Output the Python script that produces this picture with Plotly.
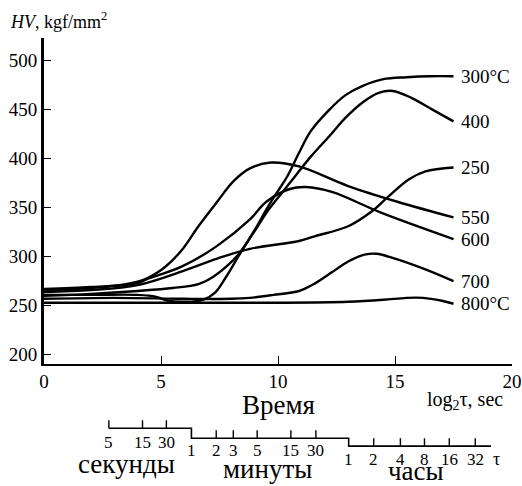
import plotly.graph_objects as go

# Hardness (HV) vs aging time, log2 of time in seconds
x300 = [0, 2, 4, 4.8, 5.3, 6.0, 6.8, 7.3, 7.8, 8.3, 9.0, 9.6, 10.0, 10.4, 10.9, 11.4, 12.2, 12.9, 13.6, 14.5, 15.5, 16.5, 17.5]
hv300 = [261, 261, 261, 259, 255, 254, 256, 263, 280, 300, 327, 352, 367, 382, 406, 428, 450, 465, 474, 481, 483, 484, 484]

x400 = [0, 2, 4, 5.5, 6.6, 7.2, 7.8, 8.3, 9.0, 9.6, 10.2, 10.7, 11.4, 12.2, 12.9, 13.6, 14.3, 14.9, 15.7, 16.6, 17.5]
hv400 = [260, 262, 265, 268, 272, 279, 290, 302, 326, 348, 366, 381, 402, 423, 442, 457, 467, 469, 462, 450, 438]

x250 = [0, 2, 4, 5.9, 7.4, 8.8, 10.9, 11.6, 13.0, 14.0, 14.7, 15.6, 16.3, 17.5]
hv250 = [264, 266, 271, 285, 298, 308, 316, 321, 331, 346, 361, 379, 387, 391]

x550 = [0, 2, 3.5, 4.4, 5.2, 5.9, 6.6, 7.4, 8.1, 8.8, 9.7, 10.9, 13.0, 15.1, 17.5]
hv550 = [267, 269, 272, 278, 290, 307, 331, 356, 377, 390, 396, 392, 372, 356, 340]

x600 = [0, 2, 4, 4.4, 5.9, 7.4, 8.8, 9.5, 10.5, 11.2, 12.3, 14.4, 17.5]
hv600 = [266, 268, 273, 277, 290, 311, 338, 356, 369, 371, 366, 345, 318]

x700 = [0, 3, 6, 8, 8.8, 9.8, 10.9, 11.6, 12.3, 13.0, 13.7, 14.2, 15.0, 16.3, 17.5]
hv700 = [257, 258, 257, 257, 258, 261, 265, 273, 284, 295, 302, 303, 298, 287, 275]

x800 = [0, 5, 10, 13, 14.5, 15.5, 16.2, 17.0, 17.5]
hv800 = [253, 253, 253, 254, 256, 258, 258, 255, 252]

series = [
    ("300°C", x300, hv300),
    ("400", x400, hv400),
    ("250", x250, hv250),
    ("550", x550, hv550),
    ("600", x600, hv600),
    ("700", x700, hv700),
    ("800°C", x800, hv800),
]

# Auxiliary time scale: tick labels and their positions on the log2 axis
sec_labels = ["5", "15", "30"]
sec_pos = [2.77, 4.21, 5.23]
min_labels = ["1", "2", "3", "5", "15", "30"]
min_pos = [6.30, 7.36, 8.09, 9.11, 10.55, 11.62]
hr_labels = ["1", "2", "4", "8", "16", "32"]
hr_pos = [13.02, 14.09, 15.23, 16.26, 17.32, 18.43]
scale_end = 19.1

FONT = "Liberation Serif, Times New Roman, serif"
fig = go.Figure()

for name, xs, ys in series:
    fig.add_trace(go.Scatter(
        x=xs, y=ys, mode="lines", name=name,
        line=dict(color="black", width=2.4, shape="spline", smoothing=1.0),
        showlegend=False, hoverinfo="skip",
    ))
    fig.add_annotation(x=17.75, y=ys[-1], xref="x", yref="y", text=name,
                       showarrow=False, xanchor="left", yanchor="middle",
                       font=dict(family=FONT, size=19, color="black"))

# Stepped time scale on a lower strip (y2 units: offsets in the strip)
row_s, row_m, row_h = -15, -25, -33
tick_len = 8
step_x = [sec_pos[0], min_pos[0], min_pos[0], hr_pos[0], hr_pos[0], scale_end]
step_y = [row_s, row_s, row_m, row_m, row_h, row_h]
fig.add_trace(go.Scatter(x=step_x, y=step_y, xaxis="x", yaxis="y2", mode="lines",
                         line=dict(color="black", width=1.6), showlegend=False,
                         hoverinfo="skip"))
tx, ty = [], []
for p in sec_pos:
    tx += [p, p, None]; ty += [row_s, row_s + tick_len, None]
for p in min_pos[1:]:
    tx += [p, p, None]; ty += [row_m, row_m + tick_len, None]
for p in hr_pos[1:]:
    tx += [p, p, None]; ty += [row_h, row_h + tick_len, None]
fig.add_trace(go.Scatter(x=tx, y=ty, xaxis="x", yaxis="y2", mode="lines",
                         line=dict(color="black", width=1.4), showlegend=False,
                         hoverinfo="skip"))

def add_text(x, y, text, size, anchor="center"):
    fig.add_annotation(x=x, y=y, xref="x", yref="y2", text=text, showarrow=False,
                       xanchor=anchor, yanchor="middle",
                       font=dict(family=FONT, size=size, color="black"))

for lab, p in zip(sec_labels, sec_pos):
    add_text(p, -29, lab, 17)
for lab, p in zip(min_labels, min_pos):
    add_text(p, -37, lab, 17)
for lab, p in zip(hr_labels, hr_pos):
    add_text(p, -46, lab, 17)
add_text(19.32, -46, "τ", 18)
add_text(3.53, -51, "секунды", 27)
add_text(9.53, -56, "минуты", 27)
add_text(15.9, -58, "часы", 27)
add_text(10.04, 8, "Время", 27)
add_text(16.3, 13, "log<sub>2</sub>τ, sec", 20, anchor="left")

fig.add_annotation(x=-0.0766, y=1.040, xref="paper", yref="paper",
                   text="<i>HV</i>, kgf/mm<sup>2</sup>", showarrow=False,
                   xanchor="left", yanchor="middle",
                   font=dict(family=FONT, size=18, color="black"))

fig.update_layout(
    width=522, height=486,
    margin=dict(l=44, r=8, t=38, b=0),
    paper_bgcolor="white", plot_bgcolor="white",
    font=dict(family=FONT, size=19, color="black"),
    xaxis=dict(range=[0, 20], tickvals=[0, 5, 10, 15, 20], ticks="inside",
               ticklen=8, tickwidth=1.2, tickcolor="black", showline=True,
               linecolor="black", linewidth=1.6, showgrid=False, zeroline=False,
               anchor="y", ticklabeloverflow="allow",
               tickfont=dict(family=FONT, size=19)),
    yaxis=dict(range=[191, 523], domain=[0.2701, 1],
               tickvals=[200, 250, 300, 350, 400, 450, 500], ticks="inside",
               ticklen=7, tickwidth=1.2, tickcolor="black", showline=True,
               linecolor="black", linewidth=3, showgrid=False, zeroline=False,
               tickfont=dict(family=FONT, size=19)),
    yaxis2=dict(range=[-71, 25], domain=[0, 0.2143], visible=False,
                anchor="x"),
)

fig.write_html("out.html")
